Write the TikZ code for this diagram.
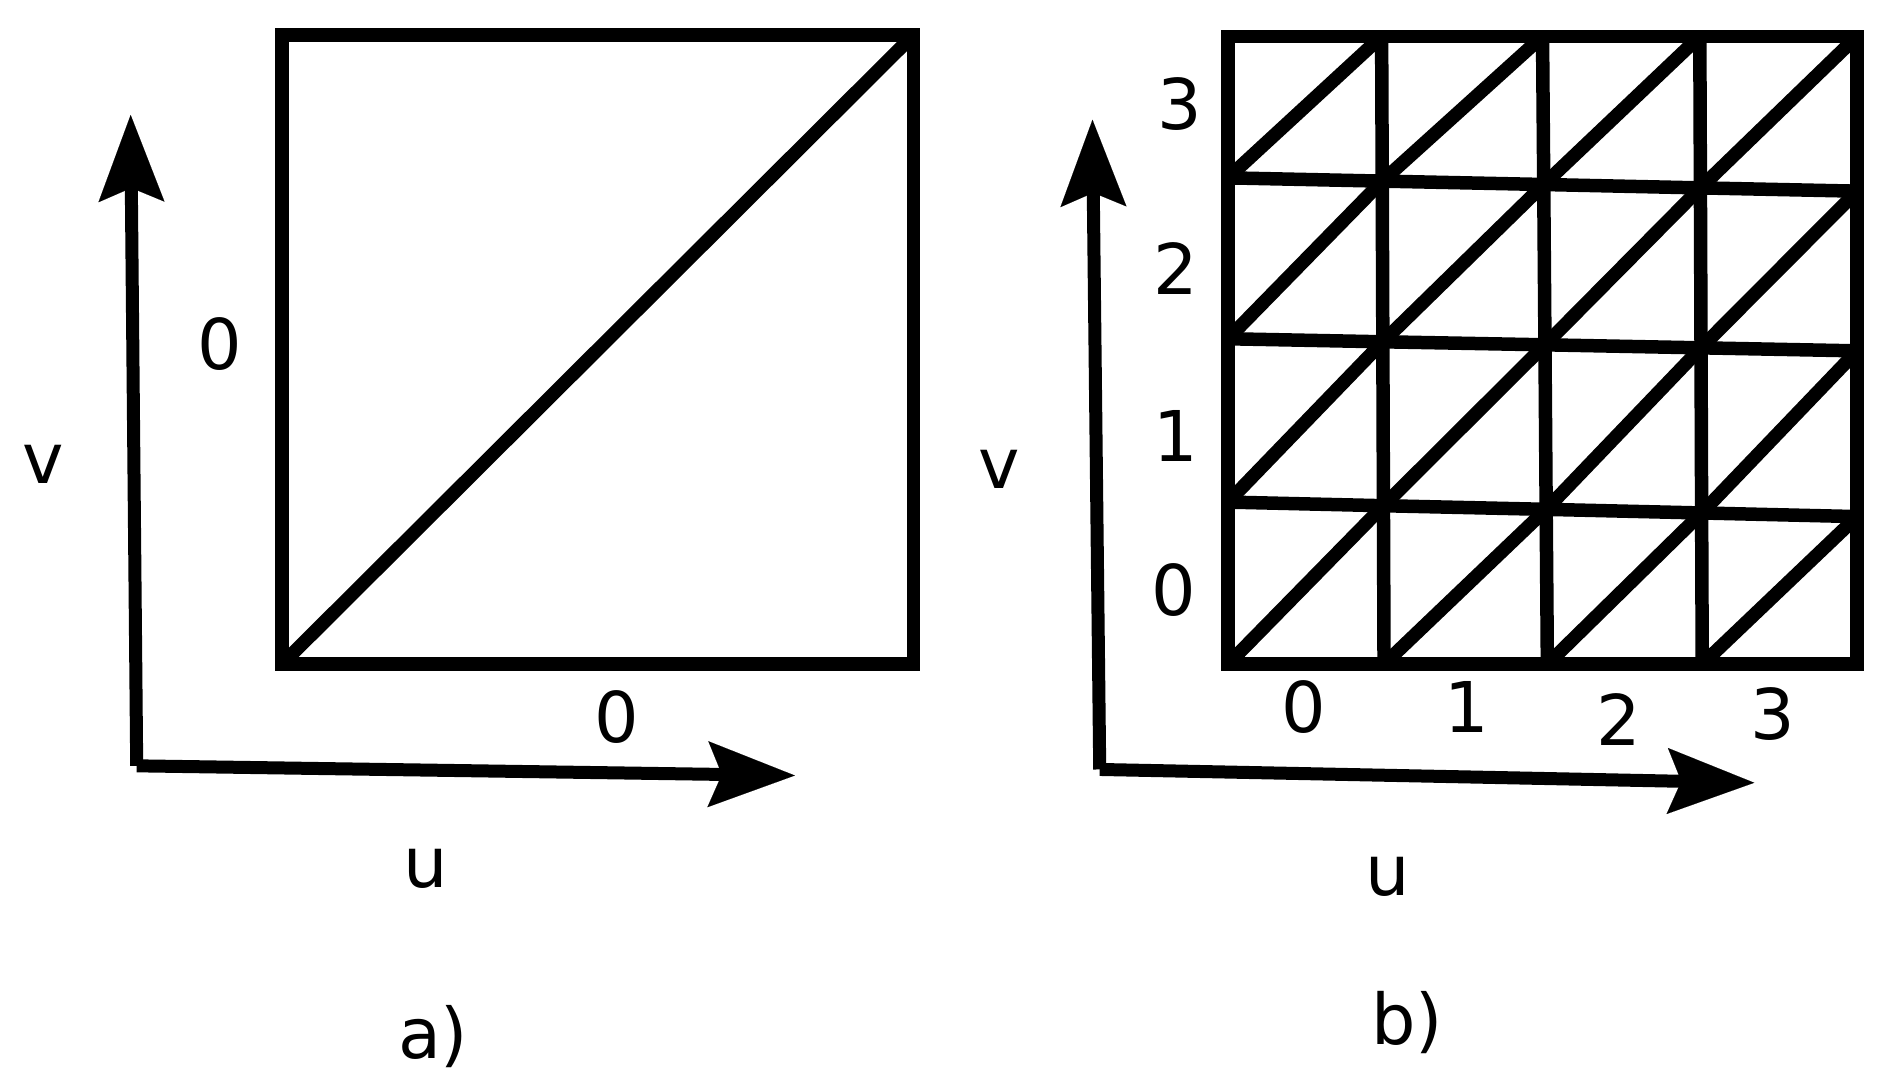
\documentclass[tikz,border=0pt]{standalone}
\usepackage{fontspec}
\setmainfont{DejaVu Sans}
\usetikzlibrary{arrows.meta}
\tikzset{
  ln/.style={line width=13.5pt, line join=miter},
  axis/.style={line width=13pt, -{Stealth[length=87pt,width=66pt,inset=14pt,line width=0.1pt]}},
  lbl/.style={font=\fontsize{70}{84}\selectfont, inner sep=0pt, anchor=center}
}
\begin{document}
\begin{tikzpicture}[x=1.2098pt,y=-1.2098pt]
\useasboundingbox (0,0) rectangle (1568,902);
% ---------- panel a ----------
\coordinate (ao) at (113,633);
\coordinate (av) at (108,95);
\coordinate (au) at (657,641);
\coordinate (sq1) at (233,29);
\coordinate (sq2) at (755,549);
\coordinate (sqbl) at (233,549);
\coordinate (sqtr) at (755,29);
\draw[ln] (sq1) rectangle (sq2);
\draw[ln] (sqbl) -- (sqtr);
\draw[axis] (ao) -- (av);
\draw[axis] (ao) -- (au);
\node[lbl] (a0l) at (182,284) {0};
\node[lbl] (a0b) at (510,593) {0};
\node[lbl] (av-l) at (36,384) {v};
\node[lbl] (au-l) at (352,718) {u};
\node[lbl] (acap) at (358,857) {a)};
% ---------- panel b ----------
\coordinate (bo) at (909,636);
\coordinate (bv) at (903,99);
\coordinate (bu) at (1450,647);
% grid points pIJ : I column (0..4, left->right), J row (0..4, bottom->top)
\coordinate (p00) at (1015,549);
\coordinate (p10) at (1144,549);
\coordinate (p20) at (1279,549);
\coordinate (p30) at (1407,549);
\coordinate (p40) at (1535,549);
\coordinate (p01) at (1015,415);
\coordinate (p11) at (1143.5,418);
\coordinate (p21) at (1278,421);
\coordinate (p31) at (1406.5,424);
\coordinate (p41) at (1535,427);
\coordinate (p02) at (1015,280);
\coordinate (p12) at (1143,282.5);
\coordinate (p22) at (1277,285);
\coordinate (p32) at (1406,287.5);
\coordinate (p42) at (1535,290);
\coordinate (p03) at (1015,147);
\coordinate (p13) at (1142.5,149.7);
\coordinate (p23) at (1276,152.5);
\coordinate (p33) at (1405.5,155.3);
\coordinate (p43) at (1535,158);
\coordinate (p04) at (1015,30);
\coordinate (p14) at (1142,30);
\coordinate (p24) at (1275,30);
\coordinate (p34) at (1405,30);
\coordinate (p44) at (1535,30);
\draw[ln] (p00) -- (p40) -- (p44) -- (p04) -- cycle;
\foreach \j in {1,2,3} {
  \draw[ln] (p0\j) -- (p1\j) -- (p2\j) -- (p3\j) -- (p4\j);
}
\foreach \i in {1,2,3} {
  \draw[ln] (p\i0) -- (p\i1) -- (p\i2) -- (p\i3) -- (p\i4);
}
\foreach \i/\ii in {0/1,1/2,2/3,3/4} {
  \foreach \j/\jj in {0/1,1/2,2/3,3/4} {
    \draw[ln] (p\i\j) -- (p\ii\jj);
  }
}
\draw[axis] (bo) -- (bv);
\draw[axis] (bo) -- (bu);
\node[lbl] (b3l) at (975,86) {3};
\node[lbl] (b2l) at (972,222) {2};
\node[lbl] (b1l) at (972,360) {1};
\node[lbl] (b0l) at (970,488) {0};
\node[lbl] (b0b) at (1078,584) {0};
\node[lbl] (b1b) at (1212,584) {1};
\node[lbl] (b2b) at (1338,595) {2};
\node[lbl] (b3b) at (1465,590) {3};
\node[lbl] (bv-l) at (826,388) {v};
\node[lbl] (bu-l) at (1147,724) {u};
\node[lbl] (bcap) at (1163,845) {b)};
\end{tikzpicture}
\end{document}
